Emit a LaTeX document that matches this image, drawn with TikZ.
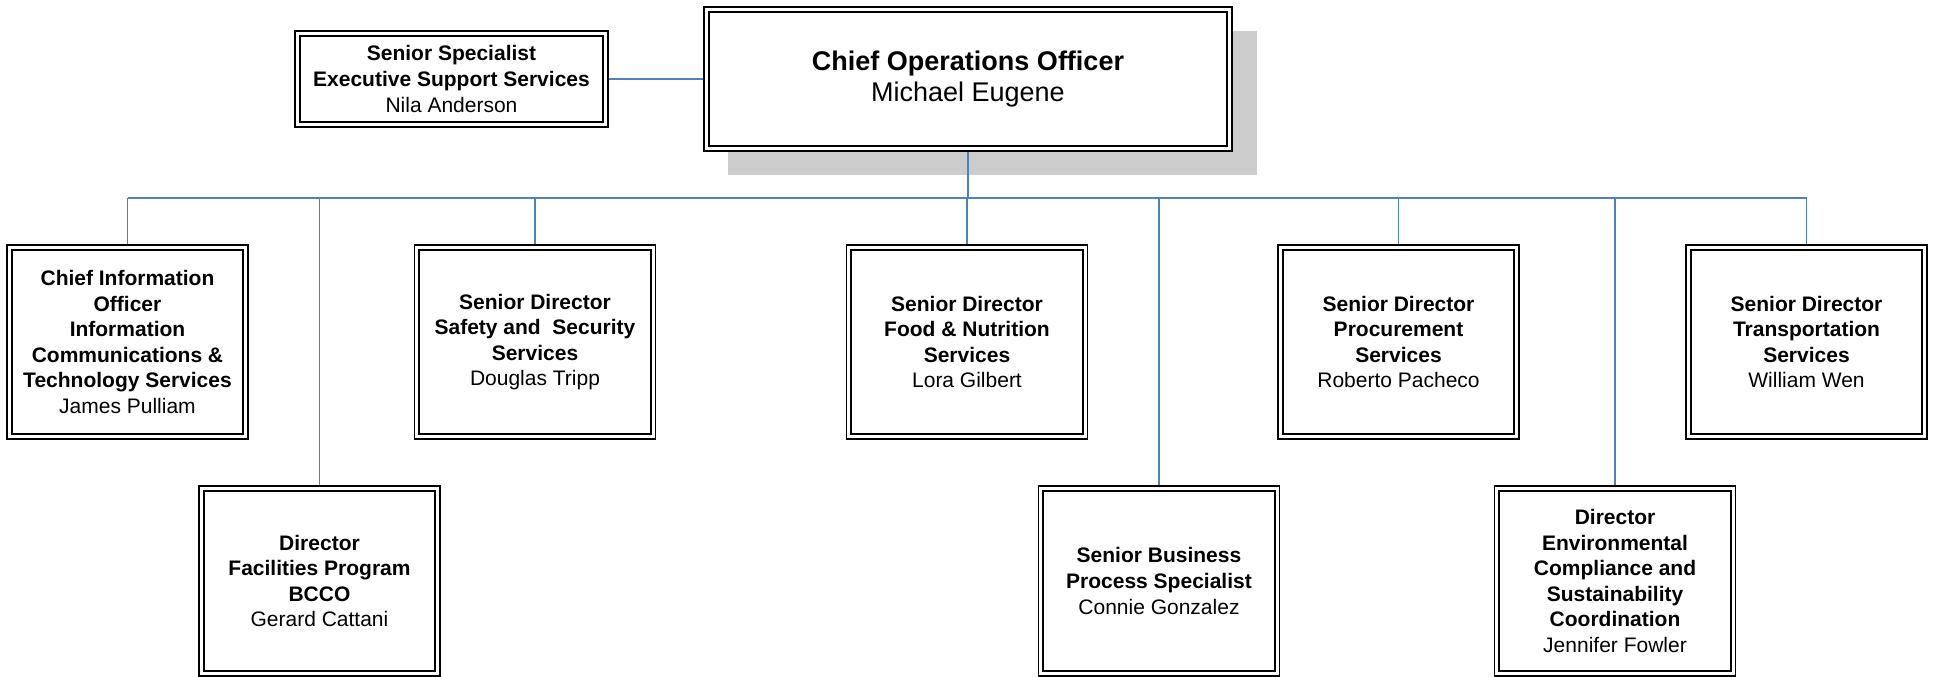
\documentclass[tikz,border=0pt]{standalone}
\usepackage{fontspec}
\setmainfont{Liberation Sans}
\definecolor{connblue}{RGB}{79,129,189}
\definecolor{shadowgray}{RGB}{204,204,204}
\begin{document}
\begin{tikzpicture}[x=1pt,y=-1pt,
  orgbox/.style={draw=black, line width=1.3pt, fill=white, inner sep=0pt, align=center,
    minimum width=241pt, minimum height=194pt,
    font=\fontsize{21}{25.6}\selectfont},
  lowbox/.style={orgbox, minimum height=190pt},
  innerline/.style={draw=black, line width=2.2pt},
  conn/.style={draw=connblue, line width=1.8pt}]
\useasboundingbox (0,0) rectangle (1933,677);
% shadow of the top box
\fill[shadowgray] (728,31) rectangle (1257,175);
% nodes
\node[orgbox, minimum width=313pt, minimum height=96pt] (ss) at (451.5,79)
  {\textbf{Senior Specialist}\\\textbf{Executive Support Services}\\Nila Anderson};
\node[orgbox, minimum width=528pt, minimum height=144pt, font=\fontsize{27}{31}\selectfont] (coo) at (968,79)
  {\textbf{Chief Operations Officer}\\Michael Eugene};
\node[orgbox] (cio) at (127.5,342)
  {\textbf{Chief Information}\\\textbf{Officer}\\\textbf{Information}\\\textbf{Communications \&}\\\textbf{Technology Services}\\James Pulliam};
\node[orgbox] (safety) at (535,342)
  {\textbf{Senior Director}\\\textbf{Safety and\ \ Security}\\\textbf{Services}\\Douglas Tripp};
\node[orgbox] (food) at (967,342)
  {\textbf{Senior Director}\\\textbf{Food \& Nutrition}\\\textbf{Services}\\Lora Gilbert};
\node[orgbox] (proc) at (1398.5,342)
  {\textbf{Senior Director}\\\textbf{Procurement}\\\textbf{Services}\\Roberto Pacheco};
\node[orgbox] (trans) at (1806.5,342)
  {\textbf{Senior Director}\\\textbf{Transportation}\\\textbf{Services}\\William Wen};
\node[lowbox] (fac) at (319.5,581)
  {\textbf{Director}\\\textbf{Facilities Program}\\\textbf{BCCO}\\Gerard Cattani};
\node[lowbox] (sbps) at (1159,581)
  {\textbf{Senior Business}\\\textbf{Process Specialist}\\Connie Gonzalez};
\node[lowbox] (env) at (1615,581)
  {\textbf{Director}\\\textbf{Environmental}\\\textbf{Compliance and}\\\textbf{Sustainability}\\\textbf{Coordination}\\Jennifer Fowler};
% inner thick borders
\foreach \n in {ss,coo,cio,safety,food,proc,trans,fac,sbps,env}{
  \draw[innerline] ([shift={(5.5pt,-5.5pt)}]\n.north west) rectangle ([shift={(-5.5pt,5.5pt)}]\n.south east);
}
% connectors
\coordinate (busL) at (127.5,198);
\coordinate (busR) at (1806.5,198);
\draw[conn] (ss.east) -- (coo.west);
\draw[conn] (coo.south) -- (coo.south |- busL);
\draw[conn] (busL) -- (busR);
\foreach \n in {cio,safety,food,proc,trans,fac,sbps,env}{
  \draw[conn] (\n.north |- busL) -- (\n.north);
}
\end{tikzpicture}
\end{document}
